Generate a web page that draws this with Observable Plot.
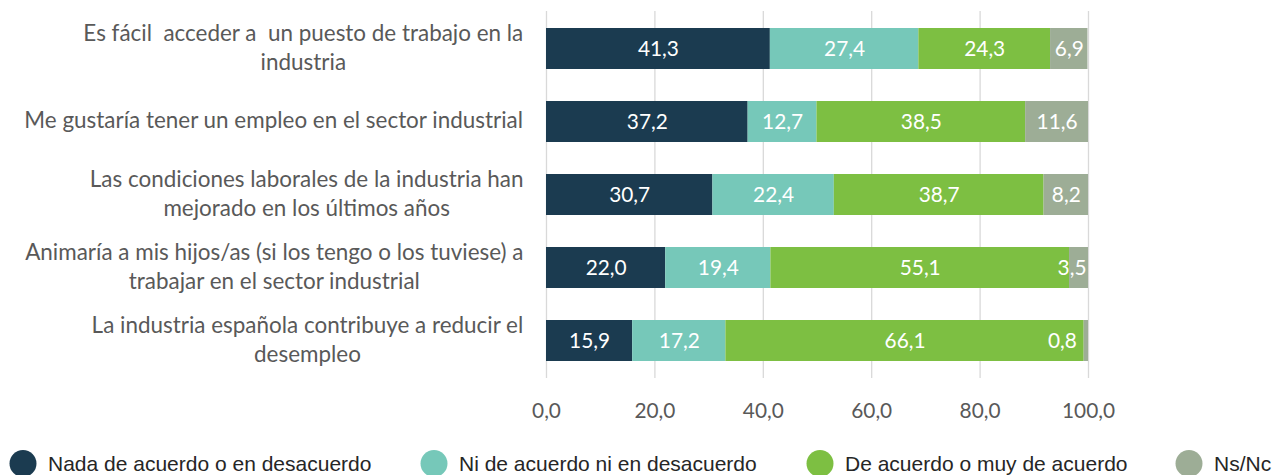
<!DOCTYPE html>
<html>
<head>
<meta charset="utf-8">
<script src="https://cdn.jsdelivr.net/npm/d3@7"></script>
<script src="https://cdn.jsdelivr.net/npm/@observablehq/plot@0.6"></script>
<style>
  html, body { margin: 0; padding: 0; background: #fff; }
  #wrap { width: 1274px; height: 475px; overflow: hidden; position: relative; }
  svg text { white-space: pre; }
</style>
</head>
<body>
<div id="wrap"></div>
<script>
// ---- data ----
const categories = [
  "Es fácil  acceder a  un puesto de trabajo en la industria",
  "Me gustaría tener un empleo en el sector industrial",
  "Las condiciones laborales de la industria han mejorado en los últimos años",
  "Animaría a mis hijos/as (si los tengo o los tuviese) a trabajar en el sector industrial",
  "La industria española contribuye a reducir el desempleo"
];
const categoryLines = [
  ["Es fácil  acceder a  un puesto de trabajo en la", "industria"],
  ["Me gustaría tener un empleo en el sector industrial"],
  ["Las condiciones laborales de la industria han", "mejorado en los últimos años"],
  ["Animaría a mis hijos/as (si los tengo o los tuviese) a", "trabajar en el sector industrial"],
  ["La industria española contribuye a reducir el", "desempleo"]
];
const series = [
  "Nada de acuerdo o en desacuerdo",
  "Ni de acuerdo ni en desacuerdo",
  "De acuerdo o muy de acuerdo",
  "Ns/Nc"
];
const nada     = [41.3, 37.2, 30.7, 22.0, 15.9];
const ni       = [27.4, 12.7, 22.4, 19.4, 17.2];
const acuerdo  = [24.3, 38.5, 38.7, 55.1, 66.1];
const nsnc     = [6.9, 11.6, 8.2, 3.5, 0.8];
const tickValues = [0, 20, 40, 60, 80, 100];
const colors = ["#1B3B50", "#76C8B9", "#7DBF42", "#9DAD96"];

// ---- build table ----
const seriesValues = [nada, ni, acuerdo, nsnc];
const rows = [];
categories.forEach((c, i) => {
  series.forEach((s, j) => rows.push({cat: c, series: s, value: seriesValues[j][i]}));
});
const fmt = v => v.toFixed(1).replace(".", ",");

// ---- font fitting ----
const family = "Lato";
const ctx = document.createElement("canvas").getContext("2d");
const textW = (s, font) => { ctx.font = font; return ctx.measureText(s).width; };
const F = 100 * 500 / textW(categoryLines[1][0], `100px ${family}`);
const FN = 100 * 41 / textW("20,0", `100px ${family}`);
const lineH = 29.5 / F;

const labelMarks = categoryLines.map((lines, i) => {
  const w = d3.max(lines, l => textW(l, `${F}px ${family}`));
  return Plot.text([categories[i]], {
    y: d => d,
    text: () => lines.join("\n"),
    frameAnchor: "left",
    textAnchor: "middle",
    lineAnchor: "middle",
    lineHeight: lineH,
    dx: -(23 + w / 2),
    dy: -3,
    fontSize: F,
    fill: "#595959"
  });
});

const chart = Plot.plot({
  width: 1274,
  height: 440,
  marginLeft: 546,
  marginRight: 186,
  marginTop: 11,
  marginBottom: 62,
  style: {fontFamily: family, color: "#595959", background: "transparent"},
  x: {domain: [0, 100], axis: null},
  y: {domain: categories, paddingInner: 0.44, paddingOuter: 0.23, axis: null},
  color: {domain: series, range: colors},
  marks: [
    Plot.ruleX(tickValues, {stroke: "#D9D9D9", strokeWidth: 1.3}),
    Plot.barX(rows, Plot.stackX({x: "value", y: "cat", fill: "series"})),
    Plot.text(rows, Plot.stackX({
      x: "value", y: "cat", z: "series",
      text: d => d.value >= 5 ? fmt(d.value) : "",
      fill: "white", fontSize: FN
    })),
    Plot.text(rows, Plot.stackX({
      x: "value", y: "cat", z: "series",
      text: d => d.value >= 1 && d.value < 5 ? fmt(d.value) : "",
      fill: "white", fontSize: FN, dx: -7
    })),
    Plot.text(rows, Plot.stackX({
      x: "value", y: "cat", z: "series",
      text: d => d.value < 1 ? fmt(d.value) : "",
      fill: "white", fontSize: FN, dx: -24
    })),
    Plot.axisX(tickValues, {
      tickSize: 0, tickPadding: 25, tickFormat: fmt, fontSize: FN, fill: "#595959", label: null
    }),
    ...labelMarks
  ]
});

const wrap = document.getElementById("wrap");
wrap.appendChild(chart);

// ---- legend ----
const legendCx = [23, 434, 820, 1189];
const legend = d3.select(wrap).append("svg")
  .attr("width", 1274).attr("height", 35)
  .style("display", "block");
const items = legend.selectAll("g").data(series).join("g");
items.append("circle")
  .attr("cx", (d, i) => legendCx[i]).attr("cy", 23.5).attr("r", 13.5)
  .attr("fill", (d, i) => colors[i]);
items.append("text")
  .attr("x", (d, i) => legendCx[i] + 25).attr("y", 31)
  .attr("font-family", "Liberation Sans, Arial, sans-serif")
  .attr("font-size", 21)
  .attr("fill", "#262626")
  .text(d => d);
</script>
</body>
</html>
